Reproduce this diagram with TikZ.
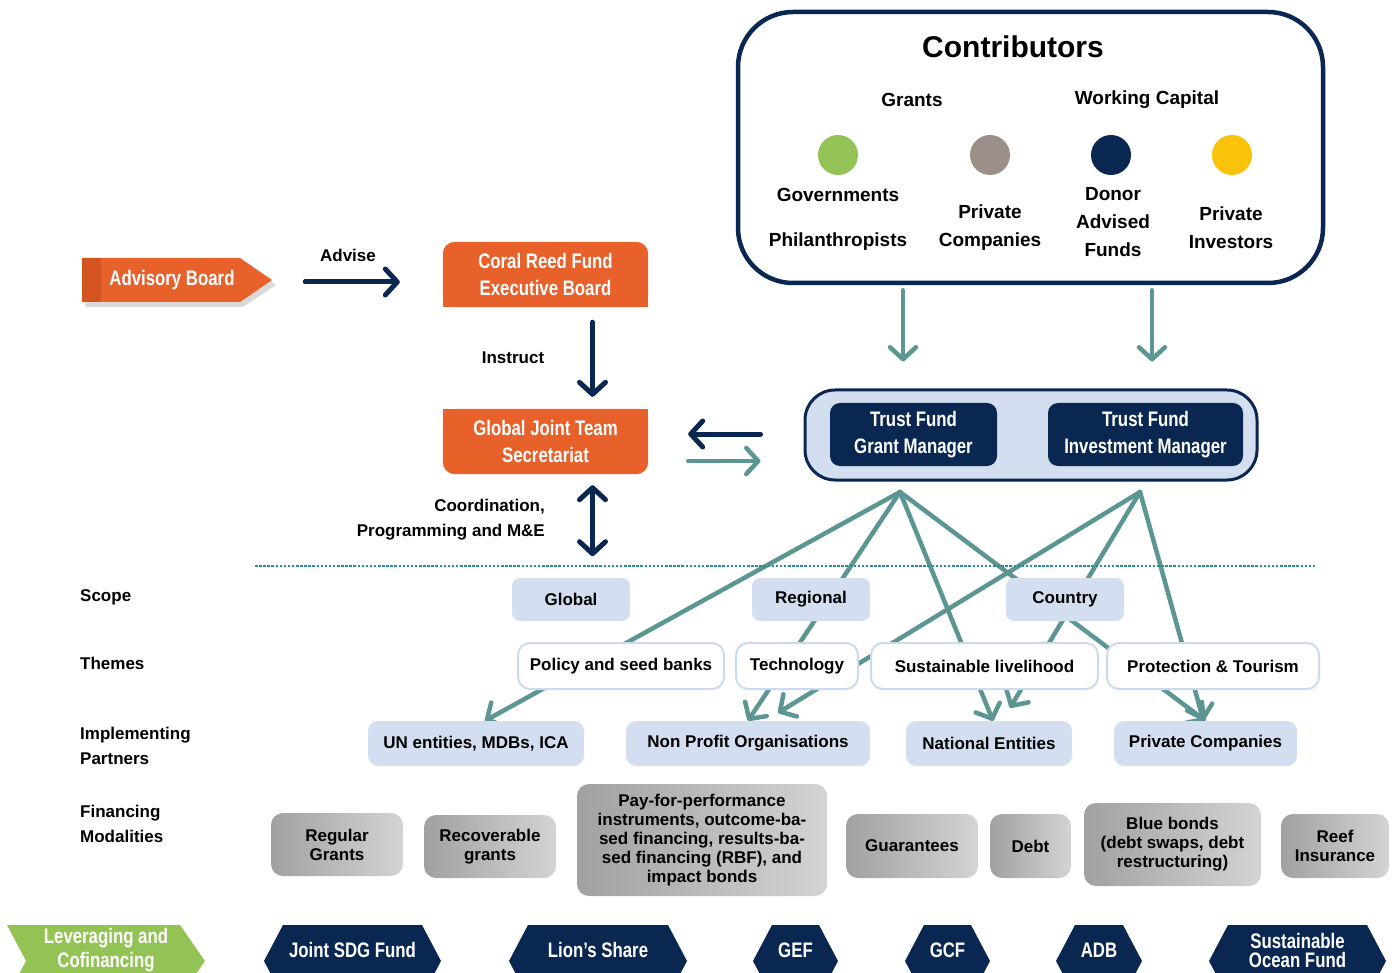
\documentclass[tikz,border=0pt]{standalone}
\usepackage{fontspec}
\setmainfont{Liberation Sans}
\newfontfamily\condfont{Liberation Sans}[FakeStretch=0.8]
\usetikzlibrary{arrows.meta,calc,positioning}

\definecolor{navy}{HTML}{0A2751}
\definecolor{coral}{HTML}{E8602A}
\definecolor{coraldark}{HTML}{D4541F}
\definecolor{tealline}{HTML}{5C9693}
\definecolor{dotteal}{HTML}{2A8C9B}
\definecolor{paleblue}{HTML}{D3DFF0}
\definecolor{themeline}{HTML}{CCDAEE}
\definecolor{leafgreen}{HTML}{93C355}
\definecolor{taupe}{HTML}{9B8F8A}
\definecolor{sun}{HTML}{F8C30A}

\pgfdeclarelayer{background}
\pgfsetlayers{background,main}

\begin{document}
\begin{tikzpicture}[x=1pt, y=-1pt,
    >={Straight Barb[round,length=12pt,width=26pt]},
    every node/.style={font=\bfseries\fontsize{17}{19}\selectfont, align=center, inner sep=0pt},
    ctext/.style={font=\bfseries\fontsize{19}{28}\selectfont},
    condtext/.style={text=white, font=\condfont\bfseries\fontsize{21}{27}\selectfont},
    contribbox/.style={draw=navy, line width=4.5pt, fill=white, rounded corners=55pt, minimum width=585pt, minimum height=271pt},
    trustbox/.style={draw=navy, line width=3pt, fill=paleblue, rounded corners=30pt, minimum width=452pt, minimum height=90pt},
    darkbox/.style={condtext, fill=navy, rounded corners=10pt, minimum height=63pt},
    orangebox/.style={condtext, minimum width=205pt, minimum height=65pt},
    scopebox/.style={fill=paleblue, rounded corners=8pt, minimum width=118pt, minimum height=43pt},
    themebox/.style={fill=white, draw=themeline, line width=2pt, rounded corners=12pt, minimum height=46pt},
    partnerbox/.style={fill=paleblue, rounded corners=10pt, minimum height=45pt},
    finbox/.style={left color=black!37, right color=black!17, rounded corners=12pt},
    rowlabel/.style={anchor=west, align=left, font=\bfseries\fontsize{17}{25}\selectfont},
    fundtext/.style={text=white, font=\condfont\bfseries\fontsize{21}{19}\selectfont},
    navyarrow/.style={draw=navy, line width=5pt, line cap=round, ->},
    tealarrow/.style={draw=tealline, line width=4.5pt, line cap=round, ->},
    dotline/.style={draw=dotteal, line width=2.5pt, dash pattern=on 2.5pt off 1.6pt}
  ]
  \useasboundingbox (0,0) rectangle (1395,973);

  % contributors
  \node[contribbox] (contrib) at (1030.5,147.5) {};
  \node[font=\bfseries\fontsize{30}{36}\selectfont] (ctitle) at (1013,47) {Contributors};
  \node[ctext] (grants) at (912,100) {Grants};
  \node[ctext] (wcap) at (1147,100) {Working Capital};
  \fill[leafgreen] (838,155) circle[radius=20];
  \fill[taupe] (990,155) circle[radius=20];
  \fill[navy] (1111,155) circle[radius=20];
  \fill[sun] (1232,155) circle[radius=20];
  \node[ctext] (gov) at (838,195) {Governments};
  \node[ctext] (phil) at (838,242) {Philanthropists};
  \node[ctext] (cprivco) at (990,228) {Private\\Companies};
  \node[ctext] (donor) at (1113,222) {Donor\\Advised\\Funds};
  \node[ctext] (privinv) at (1231,228) {Private\\Investors};

  % trust fund
  \node[trustbox] (trust) at (1031,435) {};
  \node[darkbox, minimum width=167pt] (grant) at (913.5,434.5) {Trust Fund\\Grant Manager};
  \node[darkbox, minimum width=195pt] (invest) at (1145.5,434.5) {Trust Fund\\Investment Manager};

  % governance
  \node[condtext, minimum width=200pt] (advisory) at (172,280) {Advisory Board};
  \node[orangebox] (exec) at (545.5,274.5) {Coral Reed Fund\\Executive Board};
  \node[orangebox] (secr) at (545.5,441.5) {Global Joint Team\\Secretariat};

  \node (advise) at (348,255) {Advise};
  \node (instruct) at (513,358) {Instruct};
  \node[anchor=east, align=right, font=\bfseries\fontsize{17}{25}\selectfont] (coord) at (545,520) {Coordination,\\Programming and M\&E};

  \draw[navyarrow] ($(advisory.east)+(33,2)$) -- ($(exec.west)+(-43,7.5)$);
  \draw[navyarrow] ($(exec.south)+(47,15)$) -- ($(secr.north)+(47,-12)$);
  \draw[navyarrow, <->] ($(secr.south)+(47,11)$) -- ($(secr.south)+(47,82)$);
  \draw[navyarrow] ($(trust.west)+(-43,-1)$) -- ($(secr.east)+(40,-7.5)$);
  \draw[tealarrow] ($(secr.east)+(40,19.5)$) -- ($(trust.west)+(-43,26)$);
  \draw[tealarrow] ($(contrib.south)+(-127.5,5)$) -- ($(trust.north)+(-128,-27)$);
  \draw[tealarrow] ($(contrib.south)+(121.5,5)$) -- ($(trust.north)+(121,-27)$);

  \coordinate (divleft) at (255,566);
  \coordinate (divright) at (1315,566);
  \draw[dotline] (divleft) -- (divright);

  % row labels
  \node[rowlabel] (lscope) at (80,597) {Scope};
  \node[rowlabel] (lthemes) at (80,663) {Themes};
  \node[rowlabel] (lpartners) at (80,746) {Implementing\\Partners};
  \node[rowlabel] (lfinance) at (80,824) {Financing\\Modalities};

  % scope
  \node[scopebox] (global) at (571,599.5) {Global};
  \node[scopebox] (regional) at (811,599.5) {Regional};
  \node[scopebox] (country) at (1065,599.5) {Country};

  % themes
  \node[themebox, minimum width=206pt] (policy) at (621,666) {Policy and seed banks};
  \node[themebox, minimum width=122pt] (tech) at (797,666) {Technology};
  \node[themebox, minimum width=227pt] (sust) at (984.5,666) {Sustainable livelihood};
  \node[themebox, minimum width=212pt] (prot) at (1213,666) {Protection \& Tourism};

  % implementing partners
  \node[partnerbox, minimum width=216pt] (unent) at (476,743.5) {UN entities, MDBs, ICA};
  \node[partnerbox, minimum width=244pt] (nonprofit) at (748,743.5) {Non Profit Organisations};
  \node[partnerbox, minimum width=166pt] (natent) at (989,743.5) {National Entities};
  \node[partnerbox, minimum width=183pt] (ppriv) at (1205.5,743.5) {Private Companies};

  % financing modalities
  \node[finbox, minimum width=132pt, minimum height=63pt] (reggrant) at (337,844.5) {Regular\\Grants};
  \node[finbox, minimum width=132pt, minimum height=63pt] (recov) at (490,846.5) {Recoverable\\grants};
  \node[finbox, minimum width=250pt, minimum height=112pt] (payperf) at (702,840) {Pay-for-performance\\instruments, outcome-ba-\\sed financing, results-ba-\\sed financing (RBF), and\\impact bonds};
  \node[finbox, minimum width=132pt, minimum height=64pt] (guar) at (912,846) {Guarantees};
  \node[finbox, minimum width=81pt, minimum height=64pt] (debt) at (1030.5,846) {Debt};
  \node[finbox, minimum width=177pt, minimum height=83pt] (bonds) at (1172.5,844.5) {Blue bonds\\(debt swaps, debt\\restructuring)};
  \node[finbox, minimum width=108pt, minimum height=64pt] (reef) at (1335,846) {Reef\\Insurance};

  % leveraging and cofinancing
  \fill[leafgreen] (7,925) -- (180,925) -- (205,961) -- (180,997) -- (7,997) -- (26,961) -- cycle;
  \node[condtext, font=\condfont\bfseries\fontsize{21}{24}\selectfont] (leverage) at (106,950) {Leveraging and\\Cofinancing};
  \foreach \cx/\hw/\nm/\txt in {352.5/88.5/jsdg/Joint SDG Fund, 598/89/lion/Lion’s Share, 795.5/42.5/gef/GEF, 947.5/42.5/gcf/GCF, 1099/43/adb/ADB, 1297.5/88.5/sof/{Sustainable\\Ocean Fund}}{
    \fill[navy] (\cx-\hw,961) -- (\cx-\hw+19,925) -- (\cx+\hw-19,925) -- (\cx+\hw,961) -- (\cx+\hw-19,997) -- (\cx-\hw+19,997) -- cycle;
    \node[fundtext] (\nm) at (\cx,950) {\txt};
  }

  \begin{pgfonlayer}{background}
    % advisory board arrow shape
    \fill[black!15] (85,263) -- (243,263) -- (276,285) -- (243,307) -- (85,307) -- cycle;
    \fill[coral] (82,258) -- (240,258) -- (272,280) -- (240,302) -- (82,302) -- cycle;
    \fill[coraldark] (82,258) rectangle (101,302);
    % orange boxes
    \fill[coral, rounded corners=12pt] (exec.south west) rectangle (exec.north east);
    \fill[coral] (exec.south west) rectangle (exec.east);
    \fill[coral, rounded corners=12pt] (secr.south west) rectangle (secr.north east);
    \fill[coral] (secr.west) rectangle (secr.north east);
    % allocation lines
    \coordinate (gsplit) at (900,492);
    \coordinate (isplit) at (1140,492);
    \draw[tealarrow] (gsplit) -- ([xshift=9pt]unent.north);
    \draw[tealarrow] (gsplit) -- (nonprofit.north);
    \draw[tealarrow] (gsplit) -- ([xshift=4pt]natent.north);
    \draw[tealarrow] (gsplit) -- (ppriv.north);
    \draw[tealarrow] (isplit) -- ([xshift=30pt,yshift=8pt]nonprofit.north);
    \draw[tealarrow] (isplit) -- ([xshift=21pt,yshift=13pt]natent.north);
    \draw[tealarrow] (isplit) -- ([xshift=-2pt]ppriv.north);
  \end{pgfonlayer}
\end{tikzpicture}
\end{document}
